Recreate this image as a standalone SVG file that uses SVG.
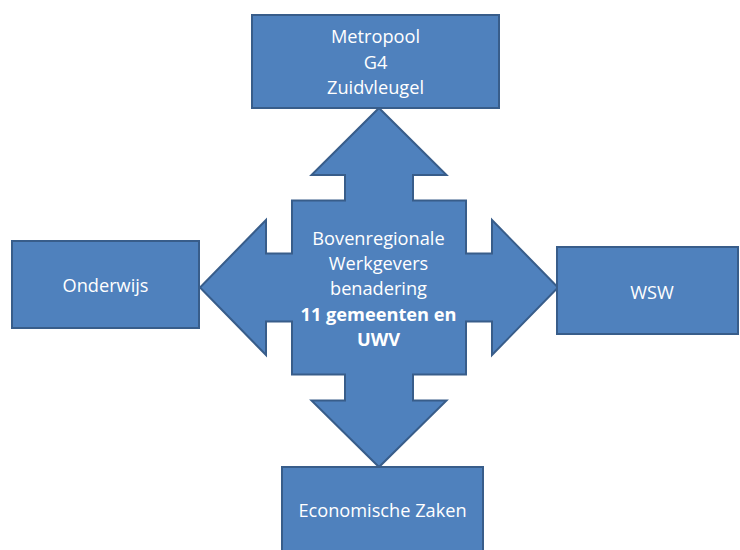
<svg xmlns="http://www.w3.org/2000/svg" width="740" height="550" viewBox="0 0 740 550">
<style>
.shape{fill:#4F81BD;stroke:#385D8A;stroke-width:2;stroke-linejoin:miter}
.t{font-family:"Open Sans","Liberation Sans",sans-serif;font-size:18.2px;fill:#FFFFFF;text-anchor:middle}
.b{font-weight:bold}
</style>
<rect width="740" height="550" fill="#FFFFFF"/>
<g id="connectors">
<path class="shape" d="M379,108 L446.5,175 L413,175 L413,200.5 L466,200.5 L466,253.5 L492,253.5 L492,220 L558,287.5 L492,355 L492,321.5 L466,321.5 L466,374.5 L413,374.5 L413,400.5 L446.5,400.5 L379,467 L311.5,400.5 L345,400.5 L345,374.5 L292,374.5 L292,321.5 L266,321.5 L266,355 L200,287.5 L266,220 L266,253.5 L292,253.5 L292,200.5 L345,200.5 L345,175 L311.5,175 Z"/>
</g>
<g id="center">
<text class="t" x="378.5" y="245">Bovenregionale</text>
<text class="t" x="378.5" y="270">Werkgevers</text>
<text class="t" x="378.5" y="295">benadering</text>
<text class="t b" x="378.5" y="321">11 gemeenten en</text>
<text class="t b" x="378.5" y="346">UWV</text>
</g>
<g id="metropool">
<rect class="shape" x="252" y="15" width="247" height="93"/>
<text class="t" x="375.5" y="43">Metropool</text>
<text class="t" x="375.5" y="68.5">G4</text>
<text class="t" x="375.5" y="94">Zuidvleugel</text>
</g>
<g id="onderwijs">
<rect class="shape" x="12" y="241" width="187" height="87"/>
<text class="t" x="105.5" y="292">Onderwijs</text>
</g>
<g id="wsw">
<rect class="shape" x="557" y="247" width="181" height="87"/>
<text class="t" x="652" y="299">WSW</text>
</g>
<g id="economische-zaken">
<rect class="shape" x="282" y="467" width="201" height="90"/>
<text class="t" x="382.5" y="517">Economische Zaken</text>
</g>
</svg>
